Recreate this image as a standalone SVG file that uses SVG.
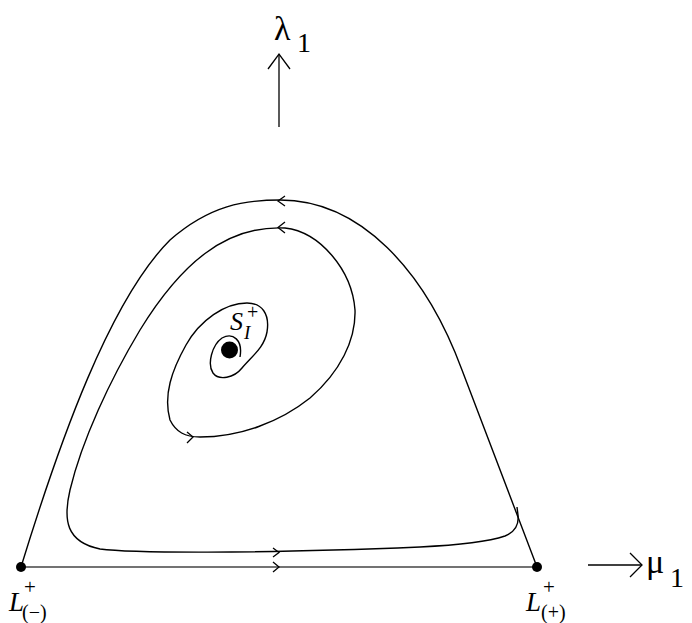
<svg xmlns="http://www.w3.org/2000/svg" width="692" height="623" viewBox="0 0 692 623">
<style>
.c{fill:none;stroke:#000;stroke-width:1.4}
.ax{fill:none;stroke:#444;stroke-width:1.4}
.ar{fill:none;stroke:#000;stroke-width:1.3}
.t{fill:#000}
.i{font-style:italic}
</style>
<rect width="692" height="623" fill="#fff"/>
<g id="connectors">
<path id="outer" class="c" d="M21,567 C60,440 110,300 170,240 C210,205 245,200 280,200 C360,200 425,270 462,370 C490,445 515,510 537,567"/>
<path id="spiral" class="c" d="M240,357 C243,340 233,332 222,338 C212,345 207,364 213,373 C219,381 234,378 242,368 C252,356 264,348 267,332 C270,314 262,303 247,303 C225,303 200,320 186,345 C172,370 163,395 170,420 C176,432 185,437 200,437 C240,437 280,422 310,398 C340,372 356,340 355,310 C352,270 320,232 285,228 C225,225 180,265 140,330 C110,380 82,440 70,490 C63,520 66,542 100,549 C130,553 250,554 420,547 C460,545 490,541 505,536 C515,532 519,524 518,515 L517,507"/>
<line id="axis-mu" class="ax" x1="21" y1="567" x2="537" y2="567"/>
<path class="ar" d="M285,196 L278,201 L285,206"/>
<path class="ar" d="M285,222 L278,227.5 L285,233"/>
<path class="ar" d="M187,432 L193,437 L187,443"/>
<path class="ar" d="M273,548 L279,552.5 L273,557"/>
<path class="ar" d="M273,562 L279,567 L273,572"/>
<line class="ar" x1="279" y1="127" x2="279" y2="54"/>
<path class="ar" d="M268,69 L279,54 L290,69"/>
<line class="ar" x1="588" y1="565" x2="642" y2="565"/>
<path class="ar" d="M630,553 L642,565 L630,577"/>
</g>
<g id="S1" font-family="'Liberation Serif', serif">
<circle cx="229.5" cy="350" r="8.5" fill="#000"/>
<text class="t i" x="230" y="330" font-size="26">S</text>
<text class="t i" x="244" y="339" font-size="19">I</text>
<text class="t" x="247" y="319" font-size="20">+</text>
</g>
<g id="Lminus" font-family="'Liberation Serif', serif">
<circle cx="21" cy="567" r="5" fill="#000"/>
<text class="t i" x="9" y="611" font-size="27">L</text>
<text class="t" x="24" y="594" font-size="21">+</text>
<text class="t" x="22" y="619" font-size="20">(−)</text>
</g>
<g id="Lplus" font-family="'Liberation Serif', serif">
<circle cx="537" cy="567" r="5" fill="#000"/>
<text class="t i" x="526" y="611" font-size="27">L</text>
<text class="t" x="543" y="594" font-size="21">+</text>
<text class="t" x="541" y="619" font-size="20">(+)</text>
</g>
<g id="lambda" font-family="'Liberation Serif', serif">
<text class="t" x="274" y="40" font-size="34">λ</text>
<text class="t" x="297" y="52" font-size="28">1</text>
</g>
<g id="mu" font-family="'Liberation Serif', serif">
<text class="t" x="646" y="573" font-size="34">μ</text>
<text class="t" x="670" y="587" font-size="28">1</text>
</g>
</svg>
